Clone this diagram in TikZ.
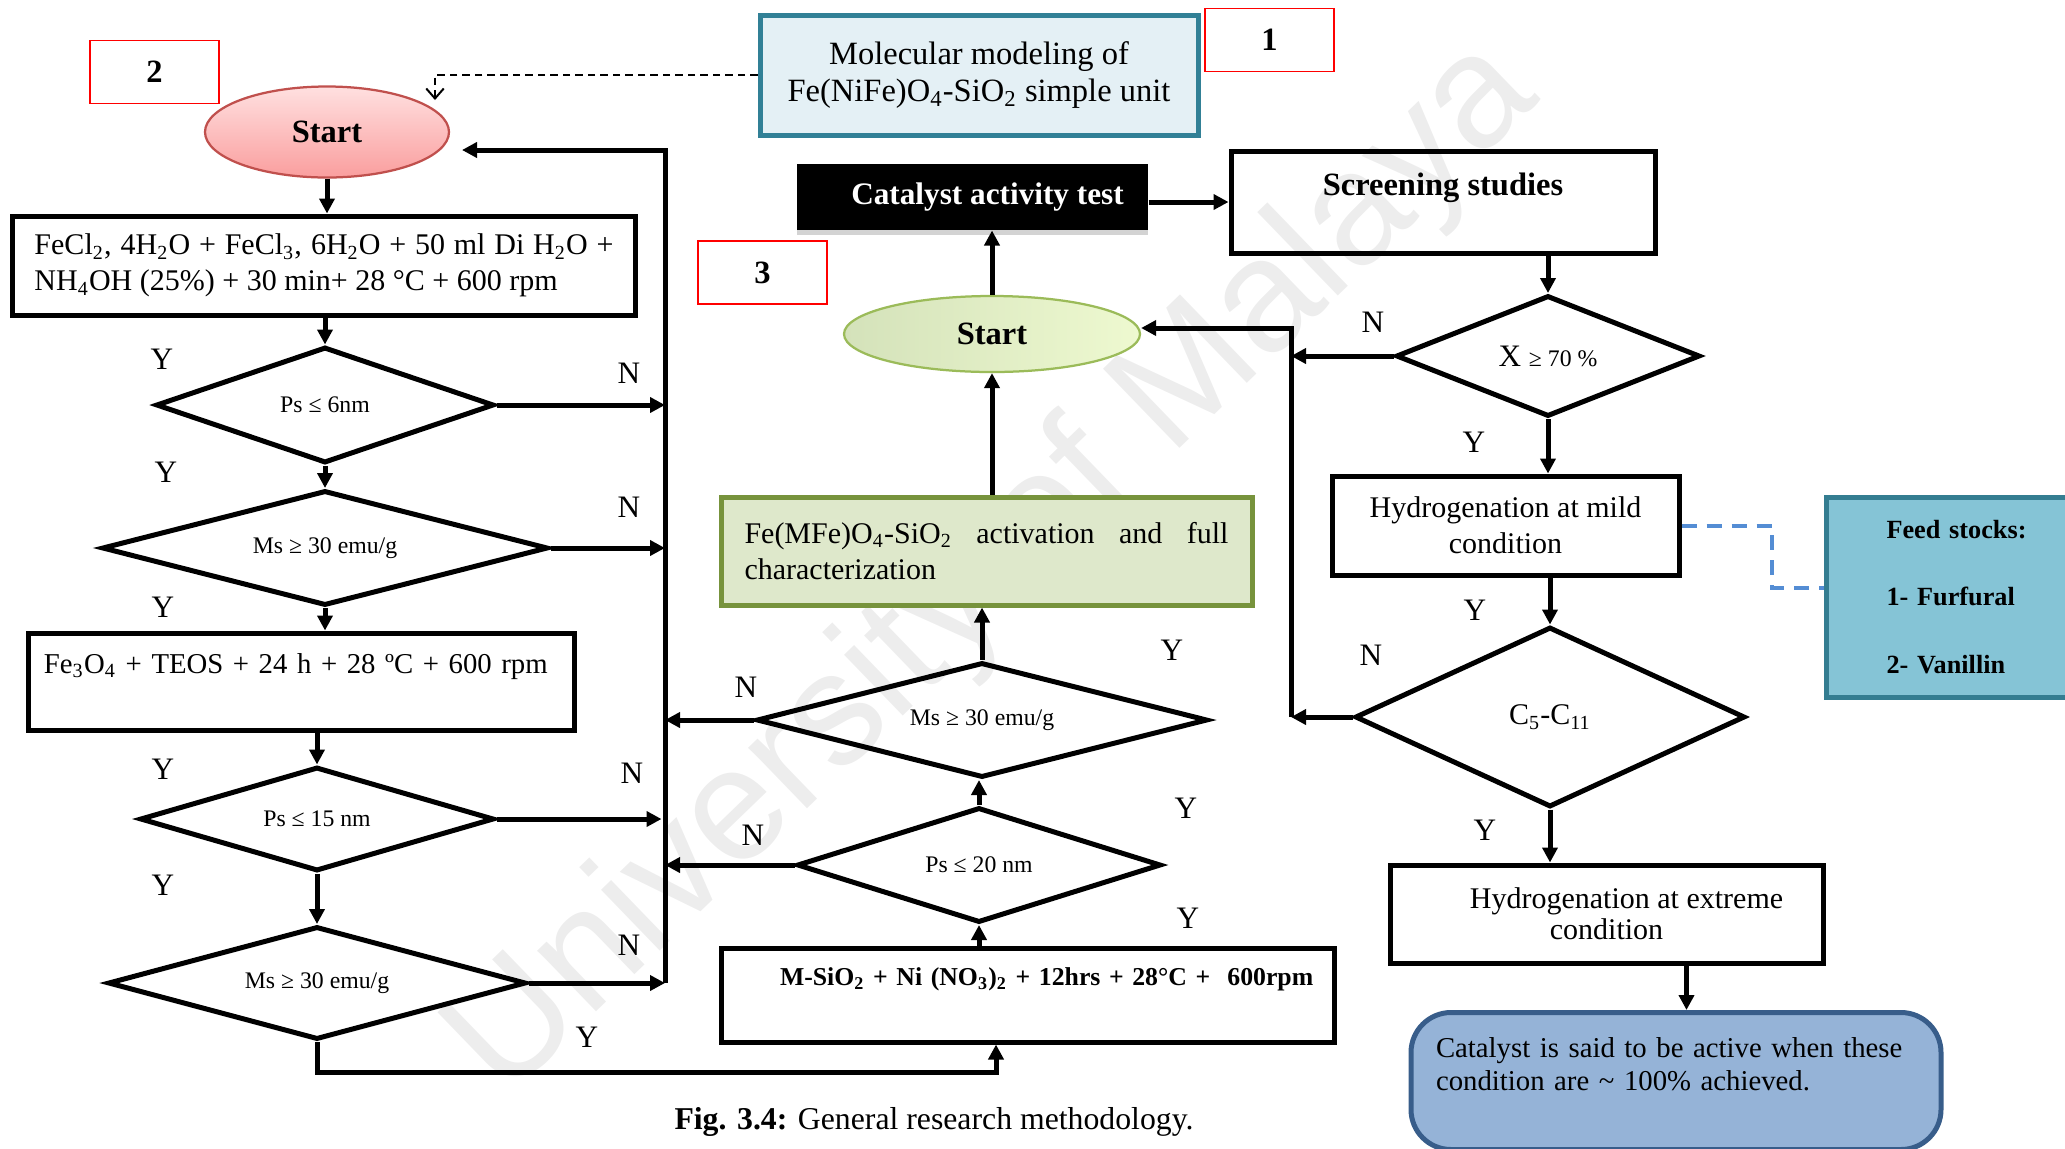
\documentclass[tikz,border=0pt]{standalone}
\usepackage{fontspec}
\setmainfont{Liberation Serif}
\newfontfamily\markfont{Liberation Sans}
\usepackage{tikz}
\usetikzlibrary{calc}
\usetikzlibrary{shapes.geometric}
\usetikzlibrary{arrows.meta}
\usetikzlibrary{shadows}

\definecolor{tagred}{RGB}{255,0,0}
\definecolor{startred}{RGB}{192,80,77}
\definecolor{startpinkT}{RGB}{255,224,224}
\definecolor{startpinkB}{RGB}{250,158,158}
\definecolor{startgreenD}{RGB}{155,187,89}
\definecolor{startgreenL}{RGB}{212,226,186}
\definecolor{startgreenR}{RGB}{238,249,208}
\definecolor{femfill}{RGB}{222,232,203}
\definecolor{femborder}{RGB}{119,147,60}
\definecolor{molfill}{RGB}{228,240,245}
\definecolor{molborder}{RGB}{49,128,150}
\definecolor{feedfill}{RGB}{133,196,214}
\definecolor{feedborder}{RGB}{52,125,145}
\definecolor{finalfill}{RGB}{149,179,215}
\definecolor{finalborder}{RGB}{56,93,138}
\definecolor{feedlink}{RGB}{84,141,212}

\begin{document}
\begin{tikzpicture}[x = 0.4pt, y = -0.4pt,
	flow/.style = {line width = 2pt, -{Triangle[length = 6pt, width = 6pt]}},
	procbox/.style = {draw, line width = 2pt, rectangle, inner sep = 0pt, font = \fontsize{12}{14.4}\selectfont},
	decision/.style = {draw, line width = 2pt, diamond, inner sep = 0pt, font = \fontsize{9.5}{11}\selectfont},
	tag/.style = {draw = tagred, line width = 0.7pt, inner sep = 0pt, minimum width = 51.6pt, minimum height = 25.2pt, font = \bfseries\fontsize{13}{15}\selectfont},
	yn/.style = {inner sep = 0pt, font = \fontsize{12.5}{14}\selectfont}]
							\useasboundingbox (0, 0) rectangle (2065, 1148);
							\node[rotate = 44, text = black!7, font = \markfont\fontsize{64}{70}\selectfont] (mark) at (995, 570) {University of Malaya};

							\node[tag] (tagb) at (154.5, 72) {2};
							\node[tag] (taga) at (1269.5, 40) {1};
							\node[tag] (tagc) at (762.5, 272.5) {3};

							% left column
							\node[ellipse, draw = startred, line width = 0.9pt, top color = startpinkT, bottom color = startpinkB, minimum width = 97.6pt, minimum height = 36.4pt, font = \bfseries\fontsize{13}{15}\selectfont] (start1) at (327, 132) {Start};
							\node[procbox, minimum width = 249.4pt, minimum height = 39.6pt, text width = 231.6pt, align = justify] (fecl) at (324, 265.5) {FeCl\textsubscript{2}, 4H\textsubscript{2}O + FeCl\textsubscript{3}, 6H\textsubscript{2}O + 50 ml Di H\textsubscript{2}O +\linebreak NH\textsubscript{4}OH (25\%) + 30 min+ 28 °C + 600 rpm};
							\node[decision, shape aspect = 2.91, minimum width = 135.2pt, minimum height = 46.4pt] (psa) at (325, 405) {Ps ≤ 6nm};
							\node[decision, shape aspect = 3.88, minimum width = 178.4pt, minimum height = 46pt] (msa) at (325, 548) {Ms ≥ 30 emu/g};
							\node[procbox, minimum width = 218pt, minimum height = 38.8pt, text width = 206pt, align = left, font = \fontsize{11.5}{14.4}\selectfont] (feo) at (301.5, 681.5) {Fe\textsubscript{3}O\textsubscript{4} + TEOS + 24 h + 28 ºC + 600 rpm\\\mbox{}};
							\node[decision, shape aspect = 3.40, minimum width = 141.6pt, minimum height = 41.6pt] (psb) at (317, 819) {Ps ≤ 15 nm};
							\node[decision, shape aspect = 3.70, minimum width = 167.2pt, minimum height = 45.2pt] (msb) at (317, 983) {Ms ≥ 30 emu/g};

							% middle column
							\node[rectangle, draw = molborder, fill = molfill, line width = 2pt, minimum width = 175.2pt, minimum height = 48pt, align = center, font = \fontsize{13}{14.8}\selectfont] (mol) at (979, 75) {Molecular modeling of\\Fe(NiFe)O\textsubscript{4}-SiO\textsubscript{2} simple unit};
							\node[rectangle, fill = black, minimum width = 140.4pt, minimum height = 26.4pt, text = white, font = \bfseries\fontsize{12.5}{15}\selectfont, drop shadow = {opacity = 0.35, shadow xshift = 0pt, shadow yshift = -2pt}] (cat) at (972.5, 197) {\hspace*{12pt}Catalyst activity test};
							\node[ellipse, draw = startgreenD, line width = 0.9pt, left color = startgreenL, right color = startgreenR, minimum width = 118.4pt, minimum height = 30.4pt, font = \bfseries\fontsize{13}{15}\selectfont] (start2) at (992, 334) {Start};
							\node[procbox, draw = femborder, fill = femfill, minimum width = 212.4pt, minimum height = 43.2pt, text width = 193.6pt, align = justify] (fem) at (986.5, 551) {Fe(MFe)O\textsubscript{4}-SiO\textsubscript{2} activation and full\linebreak characterization};
							\node[decision, shape aspect = 3.92, minimum width = 180.4pt, minimum height = 46pt] (msc) at (982, 720) {Ms ≥ 30 emu/g};
							\node[decision, shape aspect = 3.17, minimum width = 145.6pt, minimum height = 46pt] (psc) at (979, 865) {Ps ≤ 20 nm};
							\node[procbox, minimum width = 245.2pt, minimum height = 37.6pt, text width = 238pt, align = left, font = \bfseries\fontsize{10.3}{14.4}\selectfont] (msio) at (1027.5, 995) {\hspace*{20pt}M-SiO\textsubscript{2} + Ni (NO\textsubscript{3})\textsubscript{2} + 12hrs + 28°C + \ 600rpm\\\mbox{}};
							\node[font = \fontsize{12.7}{15}\selectfont] (caption) at (934, 1122) {\textbf{Fig. 3.4:} General research methodology.};

							% right column
							\node[procbox, minimum width = 169.6pt, minimum height = 40.8pt, align = center, font = \bfseries\fontsize{13}{14.4}\selectfont] (screen) at (1443, 202) {Screening studies\\\mbox{}};
							\node[decision, shape aspect = 2.51, minimum width = 121.6pt, minimum height = 48.4pt] (conv) at (1548, 356) {\fontsize{12.5}{14}\selectfont X \fontsize{9.5}{11}\selectfont≥ 70 \%};
							\node[procbox, minimum width = 138.8pt, minimum height = 39.6pt, align = center] (mild) at (1505.5, 525.5) {Hydrogenation at mild\\condition};
							\node[decision, shape aspect = 2.17, minimum width = 156pt, minimum height = 72pt, font = \fontsize{12}{14}\selectfont] (carb) at (1550, 717) {C\textsubscript{5}-C\textsubscript{11}};
							\node[procbox, minimum width = 173.2pt, minimum height = 39.2pt, align = center, font = \fontsize{12}{12.5}\selectfont] (extreme) at (1606.5, 914) {\hspace*{16pt}Hydrogenation at extreme\\condition};
							\node[rectangle, rounded corners = 16pt, draw = finalborder, fill = finalfill, line width = 2pt, minimum width = 212pt, minimum height = 54.8pt, text width = 200pt, align = left, font = \fontsize{11.5}{13.2}\selectfont] (final) at (1676, 1081) {\hspace*{4pt}Catalyst is said to be active when these\\\hspace*{4pt}condition are {\textasciitilde} 100\% achieved.\\\mbox{}};
							\node[rectangle, draw = feedborder, fill = feedfill, line width = 2pt, anchor = west, minimum height = 80pt, text width = 90pt, inner xsep = 24pt, align = left, font = \bfseries\fontsize{10.5}{27}\selectfont] (feed) at (1824, 597) {Feed stocks:\\1- Furfural\\2- Vanillin};

							\coordinate[](busa) at (665, 150);
							\coordinate[](backa) at (462, 150);
							\coordinate[](busb) at (1291, 328);
							\coordinate[](joinb) at (996, 1072);
							\coordinate[](dasha) at (435, 100);
							\coordinate[](dashb) at (1772, 588);

							\draw[flow] (start1.south) -- (start1.south |- fecl.north);
							\draw[flow] (psa.north |- fecl.south) -- (psa.north);
							\draw[flow] (psa.south) -- (msa.north);
							\draw[flow] (psa.east) -- (psa.east -| busa);
							\draw[flow] (msa.east) -- (msa.east -| busa);
							\draw[flow] (msa.south) -- (msa.south |- feo.north);
							\draw[flow] (psb.north |- feo.south) -- (psb.north);
							\draw[flow] (psb.east) -- ++(165, 0);
							\draw[flow] (psb.south) -- (msb.north);
							\draw[flow] (msb.east) -- (msb.east -| busa);
							\draw[flow] (msb.east -| busa) -- (busa) -- (backa);
							\draw[flow] (msb.south) |- (joinb) -- (joinb |- msio.south);

							\draw[flow] (psc.south |- msio.north) -- (psc.south);
							\draw[flow] (psc.north) -- (psc.north |- msc.south);
							\draw[flow] (psc.west) -- (psc.west -| busa);
							\draw[flow] (msc.west) -- (msc.west -| busa);
							\draw[flow] (msc.north) -- (msc.north |- fem.south);
							\draw[flow] (start2.south |- fem.north) -- (start2.south);
							\draw[flow] (start2.north) -- (start2.north |- cat.south);
							\draw[flow] (screen.west -| cat.east) -- (screen.west);

							\draw[flow] (conv.north |- screen.south) -- (conv.north);
							\draw[flow] (conv.west) -- (conv.west -| busb);
							\draw[flow] (conv.south) -- (conv.south |- mild.north);
							\draw[flow] (carb.north |- mild.south) -- (carb.north);
							\draw[flow] (carb.west) -- (carb.west -| busb);
							\draw[flow] (carb.west -| busb) -- (busb) -- (busb -| start2.east);
							\draw[flow] (carb.south) -- (carb.south |- extreme.north);
							\draw[flow] ([xshift = 32pt]extreme.south) -- ([xshift = 32pt]extreme.south |- final.north);

							\draw[densely dashed, line width = 0.8pt, -{Straight Barb[length = 4pt, width = 7pt]}] (mol.west) -| (dasha);
							\draw[feedlink, dash pattern = on 6pt off 4pt, line width = 1.6pt] (mild.east) -| (dashb) -- (dashb -| feed.west);

							\node[yn] (ya) at (162, 359) {Y};
							\node[yn] (na) at (629, 373) {N};
							\node[yn] (yb) at (166, 472) {Y};
							\node[yn] (nb) at (629, 507) {N};
							\node[yn] (yc) at (163, 607) {Y};
							\node[yn] (yd) at (163, 769) {Y};
							\node[yn] (nc) at (632, 773) {N};
							\node[yn] (ye) at (163, 885) {Y};
							\node[yn] (nd) at (629, 945) {N};
							\node[yn] (yf) at (587, 1037) {Y};
							\node[yn] (yg) at (1172, 650) {Y};
							\node[yn] (ne) at (746, 687) {N};
							\node[yn] (yh) at (1186, 808) {Y};
							\node[yn] (nf) at (753, 835) {N};
							\node[yn] (yi) at (1188, 918) {Y};
							\node[yn] (ng) at (1373, 322) {N};
							\node[yn] (yj) at (1474, 442) {Y};
							\node[yn] (yk) at (1475, 610) {Y};
							\node[yn] (nh) at (1371, 655) {N};
							\node[yn] (yl) at (1485, 830) {Y};
						\end{tikzpicture}
\end{document}
